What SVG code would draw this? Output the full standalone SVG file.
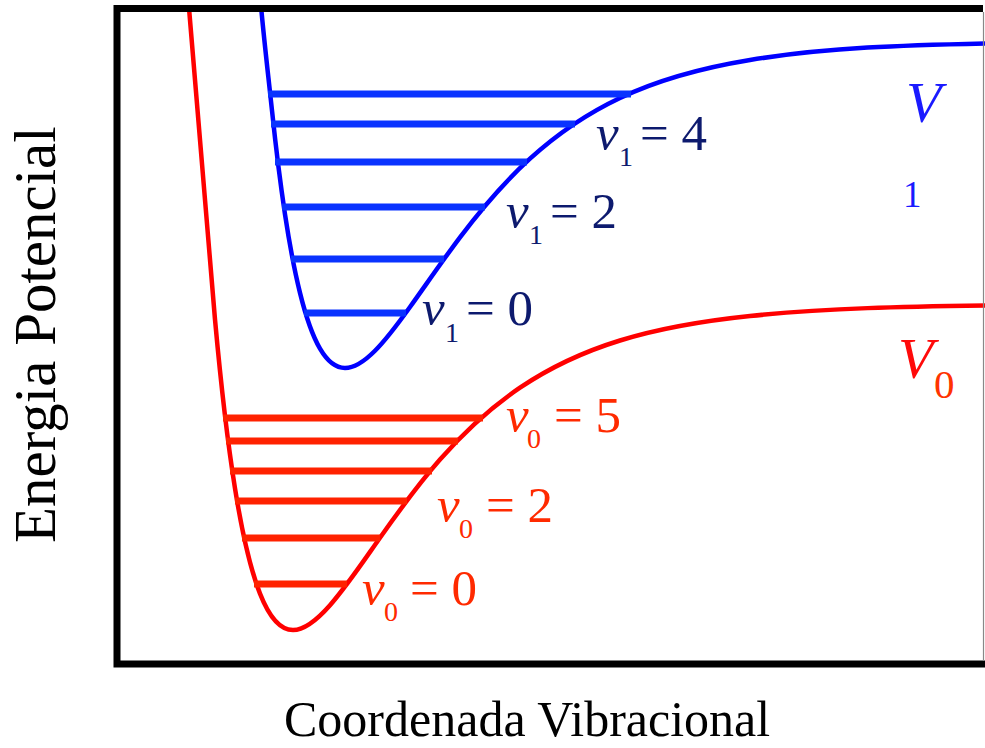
<svg xmlns="http://www.w3.org/2000/svg" width="985" height="748" viewBox="0 0 985 748">
<style>
.frame{fill:none;stroke:#000;stroke-width:7}
.curveB{fill:none;stroke:#0000ff;stroke-width:4.5}
.curveR{fill:none;stroke:#ff0000;stroke-width:4.5}
.lvB{stroke:#0a33ff;stroke-width:7}
.lvR{stroke:#ff2200;stroke-width:7}
.serif{font-family:"Liberation Serif","Times New Roman",serif}
.nu{font-style:italic;font-size:51px}
.big{font-size:51px}
.sub{font-size:28px}
.lb{fill:#0d1a6e}
.lr{fill:#ff2a00}
.axis{font-size:59px;fill:#000}
</style>
<rect width="985" height="748" fill="#fff"/>
<g id="curves">
<path id="V1-curve" class="curveB" d="M261,6 C264.67,46.3 268.33,75.7 272,110.6 C276.33,151.9 280.67,185.8 285,214.3 C290,247.2 295,272.7 300,292.9 C306.67,319.8 313.33,337.2 320,348.7 C328.33,363 336.67,368 345,368 C355,368 365,360.8 375,350.75 C386.67,339 398.33,323.3 410,307 C426.67,283.7 443.33,259.4 460,237.3 C483.33,206.4 506.67,179.9 530,158.7 C560,131.4 590,112.2 620,98 C663.33,77.5 706.67,67.1 750,60 C828.33,47.25 906.67,45.2 985,43.5"/>
<path id="V0-curve" class="curveR" d="M189,8 C197.7,120.7 206.3,224.3 215,319.5 C221.67,392.7 228.33,446.9 235,488.4 C243.33,540.3 251.67,572.5 260,593.6 C271,621.5 282,630 293,630 C305.33,630 317.67,619.2 330,605.2 C346.67,586.25 363.33,561.3 380,537.7 C400,509.4 420,482.4 440,459.6 C466.67,429.2 493.33,405.7 520,387.7 C553.33,365.2 586.67,350.8 620,340.5 C663.33,327.1 706.67,320.5 750,316 C828.33,307.9 906.67,306.6 985,305.5"/>
</g>
<g id="levels-V1">
<line class="lvB" x1="268" y1="94" x2="631" y2="94"/>
<line class="lvB" x1="271" y1="124" x2="575" y2="124"/>
<line class="lvB" x1="275" y1="162" x2="527" y2="162"/>
<line class="lvB" x1="282" y1="207" x2="485" y2="207"/>
<line class="lvB" x1="291" y1="259" x2="444" y2="259"/>
<line class="lvB" x1="304" y1="313" x2="406" y2="313"/>
</g>
<g id="levels-V0">
<line class="lvR" x1="223" y1="418" x2="483" y2="418"/>
<line class="lvR" x1="226" y1="441" x2="458" y2="441"/>
<line class="lvR" x1="230" y1="471" x2="432" y2="471"/>
<line class="lvR" x1="235" y1="501" x2="407" y2="501"/>
<line class="lvR" x1="242" y1="538" x2="380" y2="538"/>
<line class="lvR" x1="254" y1="584" x2="347" y2="584"/>
</g>
<g id="frame">
<path class="frame" d="M983,8.5 H117 V664 H985"/>
<line x1="983.5" y1="12" x2="983.5" y2="661" stroke="#888" stroke-width="1.2"/>
</g>
<g id="label-v1-4" class="serif lb">
<text class="nu" x="596" y="150">ν</text><text class="sub" x="619" y="166">1</text><text class="big" x="640" y="150">= 4</text>
</g>
<g id="label-v1-2" class="serif lb">
<text class="nu" x="506" y="228">ν</text><text class="sub" x="529" y="244">1</text><text class="big" x="550" y="228">= 2</text>
</g>
<g id="label-v1-0" class="serif lb">
<text class="nu" x="422" y="325">ν</text><text class="sub" x="445" y="342">1</text><text class="big" x="466" y="325">= 0</text>
</g>
<g id="label-v0-5" class="serif lr">
<text class="nu" x="506" y="432">ν</text><text class="sub" x="527" y="448">0</text><text class="big" x="554" y="432">= 5</text>
</g>
<g id="label-v0-2" class="serif lr">
<text class="nu" x="437" y="522">ν</text><text class="sub" x="459" y="538">0</text><text class="big" x="486" y="522">= 2</text>
</g>
<g id="label-v0-0" class="serif lr">
<text class="nu" x="362" y="605">ν</text><text class="sub" x="384" y="621">0</text><text class="big" x="410" y="605">= 0</text>
</g>
<g id="label-V1" class="serif">
<text x="906" y="122" font-size="58" font-style="italic" fill="#1a1aff">V</text>
<text x="903" y="207" font-size="37" fill="#1a1aff">1</text>
</g>
<g id="label-V0" class="serif">
<text x="898" y="378" font-size="58" font-style="italic" fill="#ff0a0a">V</text>
<text x="934" y="398" font-size="41" fill="#ff3300">0</text>
</g>
<g id="axis-y" class="serif">
<text class="axis" transform="translate(55,543) rotate(-90)" x="0" y="0">Energia Potencial</text>
</g>
<g id="axis-x" class="serif">
<text x="284" y="736" font-size="50" fill="#000">Coordenada Vibracional</text>
</g>
</svg>
